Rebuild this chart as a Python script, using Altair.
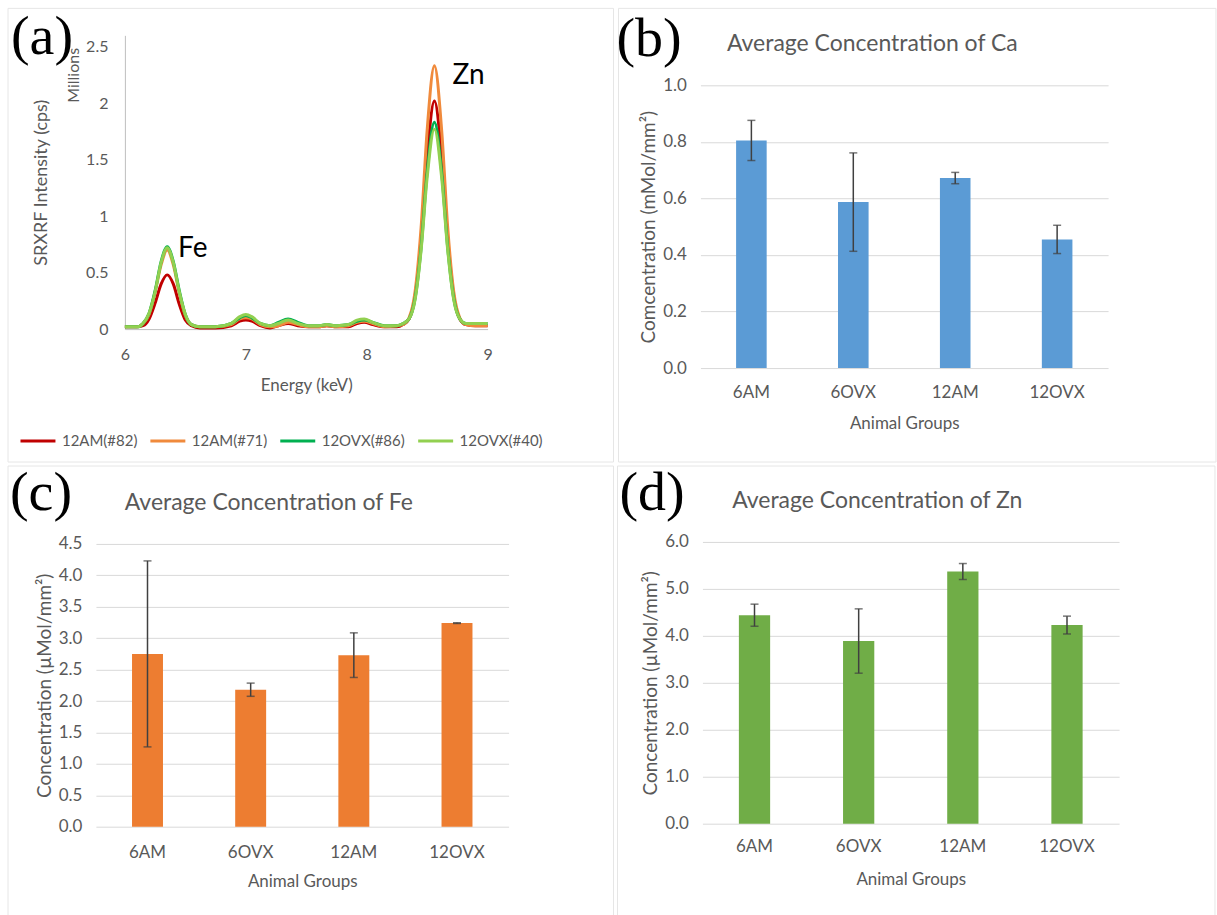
import altair as alt
import pandas as pd

FONT = "Lato"
GRAY = "#595959"

# ---------------- Panel (a): SRXRF spectra ----------------
energy = [6.00, 6.10, 6.15, 6.20, 6.25, 6.30, 6.35, 6.40, 6.45, 6.50, 6.55, 6.62,
          6.75, 6.88, 6.95, 7.00, 7.05, 7.12, 7.20, 7.27, 7.35, 7.43, 7.52, 7.60,
          7.67, 7.75, 7.85, 7.92, 7.98, 8.05, 8.15,
          8.25, 8.30, 8.35, 8.40, 8.45, 8.50, 8.56, 8.62, 8.67, 8.72, 8.77, 8.82, 8.90, 9.00]

red_12am_82 = [0.02, 0.02, 0.03, 0.09, 0.23, 0.40, 0.48, 0.40, 0.22, 0.08, 0.03, 0.01,
               0.01, 0.03, 0.07, 0.08, 0.07, 0.03, 0.01, 0.03, 0.05, 0.03, 0.02, 0.02,
               0.03, 0.02, 0.02, 0.05, 0.06, 0.04, 0.02,
               0.02, 0.04, 0.09, 0.29, 0.79, 1.53, 2.02, 1.53, 0.79, 0.29, 0.09, 0.04, 0.03, 0.03]
orange_12am_71 = [0.02, 0.02, 0.05, 0.13, 0.33, 0.57, 0.70, 0.57, 0.32, 0.12, 0.04, 0.02,
                  0.02, 0.04, 0.09, 0.10, 0.09, 0.04, 0.02, 0.03, 0.06, 0.04, 0.02, 0.02,
                  0.03, 0.02, 0.03, 0.06, 0.07, 0.05, 0.02,
                  0.03, 0.04, 0.10, 0.33, 0.90, 1.76, 2.33, 1.76, 0.90, 0.33, 0.10, 0.04, 0.03, 0.03]
dkgreen_12ovx_86 = [0.02, 0.02, 0.05, 0.14, 0.34, 0.60, 0.73, 0.60, 0.34, 0.13, 0.04, 0.02,
                    0.02, 0.05, 0.10, 0.12, 0.10, 0.05, 0.03, 0.06, 0.09, 0.06, 0.03, 0.03,
                    0.04, 0.03, 0.04, 0.07, 0.08, 0.06, 0.03,
                    0.03, 0.05, 0.09, 0.27, 0.72, 1.39, 1.83, 1.39, 0.72, 0.27, 0.09, 0.05, 0.05, 0.05]
ltgreen_12ovx_40 = [0.02, 0.02, 0.05, 0.14, 0.33, 0.59, 0.72, 0.59, 0.33, 0.13, 0.04, 0.02,
                    0.02, 0.05, 0.11, 0.13, 0.11, 0.05, 0.03, 0.05, 0.08, 0.05, 0.03, 0.03,
                    0.04, 0.03, 0.04, 0.08, 0.09, 0.06, 0.03,
                    0.03, 0.05, 0.09, 0.26, 0.70, 1.34, 1.77, 1.34, 0.70, 0.26, 0.09, 0.05, 0.05, 0.05]

series_names = ["12AM(#82)", "12AM(#71)", "12OVX(#86)", "12OVX(#40)"]
series_colors = ["#C00000", "#F08A3C", "#00B050", "#92D050"]
series_values = [red_12am_82, orange_12am_71, dkgreen_12ovx_86, ltgreen_12ovx_40]

peak_labels = ["Fe", "Zn"]
peak_x = [6.44, 8.71]
peak_y = [0.64, 2.17]

# ---------------- Bar panels ----------------
groups = ["6AM", "6OVX", "12AM", "12OVX"]
ca_mean = [0.805, 0.587, 0.672, 0.455]
ca_err = [0.071, 0.174, 0.020, 0.050]
fe_mean = [2.75, 2.18, 2.73, 3.24]
fe_err = [1.48, 0.105, 0.355, 0.006]
zn_mean = [4.44, 3.89, 5.37, 4.23]
zn_err = [0.235, 0.685, 0.17, 0.19]

one = pd.DataFrame({"k": [0]})


def frame(left, right, top, bottom):
    return alt.Chart(one).mark_rect(fillOpacity=0, stroke="#E6E6E6", strokeWidth=1).encode(
        x=alt.value(left), x2=alt.value(right), y=alt.value(top), y2=alt.value(bottom))


def label_text(txt, x, y, size, font, color, align="left", angle=0):
    kw = dict(fontSize=size, font=font, color=color, align=align, baseline="alphabetic")
    if angle:
        kw["angle"] = angle
    return alt.Chart(one).mark_text(**kw).encode(
        x=alt.value(x), y=alt.value(y), text=alt.value(txt))


# Panel (a)  -- origin at the plot's top edge; view extended 29px to the left
rows = []
for name, vals in zip(series_names, series_values):
    for e, v in zip(energy, vals):
        rows.append({"energy": e, "intensity": v, "series": name})
spec_df = pd.DataFrame(rows)

A_SHIFT = 29
WA, HA = 363, 294
lines = alt.Chart(spec_df).mark_line(strokeWidth=3, interpolate="monotone").encode(
    x=alt.X("energy:Q", scale=alt.Scale(domain=[6, 9], range=[A_SHIFT, A_SHIFT + WA]),
            axis=alt.Axis(values=[6, 7, 8, 9], format="~g", title="Energy (keV)", grid=False,
                          ticks=False, labelFlush=False, domainColor="#BFBFBF", labelPadding=17,
                          titlePadding=15, titleFontSize=17, tickCount=20)),
    y=alt.Y("intensity:Q", scale=alt.Scale(domain=[0, 2.5]),
            axis=alt.Axis(values=[0, 0.5, 1, 1.5, 2, 2.5], format="~g", title="SRXRF Intensity (cps)",
                          grid=False, ticks=False, domainColor="#BFBFBF", labelPadding=17,
                          titlePadding=35, titleFontSize=18, offset=-A_SHIFT, labelFlush=False,
                          tickCount=20, labelOverlap=False)),
    color=alt.Color("series:N", scale=alt.Scale(domain=series_names, range=series_colors),
                    legend=alt.Legend(title=None, orient="none", legendX=-77, legendY=387,
                                      direction="horizontal", symbolType="stroke",
                                      symbolStrokeWidth=3, symbolSize=1225, labelFontSize=15,
                                      labelFont=FONT, labelColor=GRAY, columnPadding=6,
                                      labelOffset=5)),
    order=alt.Order("series:N"),
)
peaks_df = pd.DataFrame({"label": peak_labels, "x": peak_x, "y": peak_y})
peaks = alt.Chart(peaks_df).mark_text(fontSize=28, font=FONT, color="black", align="left",
                                      baseline="alphabetic").encode(
    x="x:Q", y="y:Q", text="label:N")
panel_a = alt.layer(
    frame(-88, 518, -27, 427),
    lines,
    peaks,
    label_text("Millions", -17, 40, 16, FONT, GRAY, align="center", angle=270),
    label_text("(a)", -85, 19, 56, "Liberation Serif", "black"),
).properties(width=A_SHIFT + WA, height=HA)


def bar_panel(mean, err, color, ymax, step, ytitle, title, tag, W, H, top_shift, box,
              title_xy, tag_xy, xlabpad, xtitlepad):
    df = pd.DataFrame({"group": groups, "mean": mean,
                       "lo": [m - e for m, e in zip(mean, err)],
                       "hi": [m + e for m, e in zip(mean, err)]})
    ticks = [round(i * step, 2) for i in range(int(round(ymax / step)) + 1)]
    total_h = H + top_shift
    xenc = alt.X("group:N", sort=groups,
                 scale=alt.Scale(paddingInner=0.7, paddingOuter=0.35),
                 axis=alt.Axis(title="Animal Groups", labelAngle=0, ticks=False, domain=False,
                               labelPadding=xlabpad, titlePadding=xtitlepad, labelFontSize=17,
                               titleFontSize=17))
    yscale = alt.Scale(domain=[0, ymax], nice=False, range=[total_h, top_shift])
    bars = alt.Chart(df).mark_bar(color=color).encode(
        x=xenc,
        y=alt.Y("mean:Q", scale=yscale,
                axis=alt.Axis(values=ticks, tickCount=30, format=".1f", title=ytitle, ticks=False,
                              domain=False, grid=True, gridColor="#D9D9D9", labelPadding=14,
                              labelOverlap=False, titlePadding=4, labelFontSize=17,
                              titleFontSize=19)))
    rule = alt.Chart(df).mark_rule(color="#404040", strokeWidth=1.5).encode(
        x=alt.X("group:N", sort=groups), y=alt.Y("lo:Q", scale=yscale), y2="hi:Q")
    cap_lo = alt.Chart(df).mark_tick(color="#404040", thickness=1.5, size=8).encode(
        x=alt.X("group:N", sort=groups), y=alt.Y("lo:Q", scale=yscale))
    cap_hi = alt.Chart(df).mark_tick(color="#404040", thickness=1.5, size=8).encode(
        x=alt.X("group:N", sort=groups), y=alt.Y("hi:Q", scale=yscale))
    return alt.layer(
        frame(*box),
        bars, rule, cap_lo, cap_hi,
        label_text(title, title_xy[0], title_xy[1], 23, FONT, GRAY, align="center"),
        label_text(tag, tag_xy[0], tag_xy[1], 56, "Liberation Serif", "black"),
    ).properties(width=W, height=total_h)


# Panel (b): origin at abs (697, 34); plot top at abs 84 -> shift 50
panel_b = bar_panel(ca_mean, ca_err, "#5B9BD5", 1.0, 0.2, "Comcentration (mMol/mm²)",
                    "Average Concentration of Ca", "(b)", 408, 283, 50,
                    (-82, 516, -27, 427), (172, 16), (-84, 21), 16, 15)
# Panel (c): origin at abs (95, 539); plot top at abs 541 -> shift 2
panel_c = bar_panel(fe_mean, fe_err, "#ED7D31", 4.5, 0.5, "Concentration (µMol/mm²)",
                    "Average Concentration of Fe", "(c)", 413, 283, 2,
                    (-88, 518, -76, 374), (173, -32), (-86, -32), 18, 13)
# Panel (d): origin at abs (700, 539)
panel_d = bar_panel(zn_mean, zn_err, "#70AD47", 6.0, 1.0, "Concentration (µMol/mm²)",
                    "Average Concentration of Zn", "(d)", 417, 282, 0,
                    (-85, 513, -76, 374), (175, -34), (-83, -32), 15, 17)

chart = alt.vconcat(
    alt.hconcat(panel_a, panel_b, spacing=2),
    alt.hconcat(panel_c, panel_d, spacing=2),
    spacing=2,
).properties(
    padding={"left": 7, "top": 7, "right": 0, "bottom": 0},
    background="white",
).configure_view(stroke=None).configure_axis(
    labelFont=FONT, titleFont=FONT, labelColor=GRAY, titleColor=GRAY,
    labelFontSize=16, titleFontSize=16, titleFontWeight="normal",
)

chart.save("out.html", embed_options={"renderer": "svg", "actions": False})
